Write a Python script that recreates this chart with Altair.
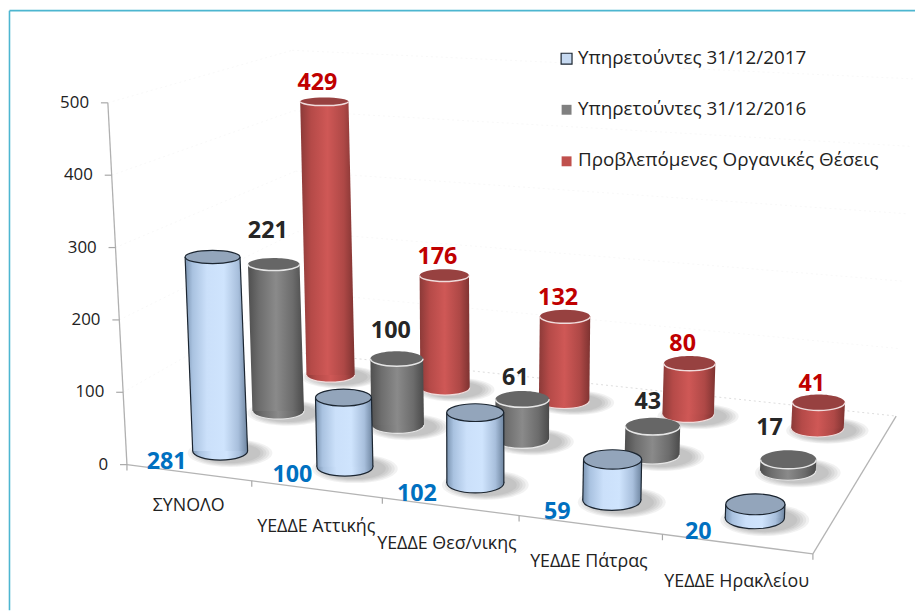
import altair as alt
import numpy as np
import pandas as pd

# ---------- data ----------
categories = ["ΣΥΝΟΛΟ", "ΥΕΔΔΕ Αττικής", "ΥΕΔΔΕ Θεσ/νικης", "ΥΕΔΔΕ Πάτρας", "ΥΕΔΔΕ Ηρακλείου"]
series_names = ["Υπηρετούντες 31/12/2017", "Υπηρετούντες 31/12/2016", "Προβλεπόμενες Οργανικές Θέσεις"]
v2017 = [281, 100, 102, 59, 20]
v2016 = [221, 100, 61, 43, 17]
v_org = [429, 176, 132, 80, 41]
series_values = [v2017, v2016, v_org]
axis_ticks = [0, 100, 200, 300, 400, 500]

# ---------- 3D projection (floor corners of the scene, as a homography) ----------
src = [(0, 0), (1, 0), (1, 1), (0, 1)]
dst = [(121, 464), (813, 554), (897, 415), (296, 351)]
M, b = [], []
for (u, w), (X, Y) in zip(src, dst):
    M.append([u, w, 1, 0, 0, 0, -u * X, -w * X]); b.append(X)
    M.append([0, 0, 0, u, w, 1, -u * Y, -w * Y]); b.append(Y)
H = np.append(np.linalg.solve(np.array(M, float), np.array(b, float)), 1).reshape(3, 3)


def floor(u, w):
    p = H @ np.array([u, w, 1.0])
    return float(p[0] / p[2]), float(p[1] / p[2])


def lift(x, y, h):
    """Point h pixels above floor point (x, y), with verticals converging below."""
    return x + (x - 487) * h / (7400 - y), y - h


def ratio(y):
    return min(0.4, 0.17 + 0.00046 * (y - 104))


def ellipse(r):
    c = 0.5523
    return (f"M-1,0C-1,{-c*r:.3f},{-c:.3f},{-r:.3f},0,{-r:.3f}C{c:.3f},{-r:.3f},1,{-c*r:.3f},1,0"
            f"C1,{c*r:.3f},{c:.3f},{r:.3f},0,{r:.3f}C{-c:.3f},{r:.3f},-1,{c*r:.3f},-1,0Z")


def front_arc(r):
    c = 0.5523
    return f"M-1,0C-1,{c*r:.3f},{-c:.3f},{r:.3f},0,{r:.3f}C{c:.3f},{r:.3f},1,{c*r:.3f},1,0"


# ---------- scales map picture pixels onto the 915x605 plot ----------
XS = alt.Scale(domain=[1, 916], range=[0, 915], nice=False, zero=False)
YS = alt.Scale(domain=[6, 611], range=[0, 605], nice=False, zero=False)
FONT = "Open Sans"
EX = alt.X("x:Q", scale=XS, axis=None)
EY = alt.Y("y:Q", scale=YS, axis=None)


def grad(stops):
    return alt.Gradient(gradient="linear", x1=0, x2=1, y1=0, y2=0,
                        stops=[alt.GradientStop(offset=o, color=c) for o, c in stops])


def rules(rows, color, width=1.0, dash=None, opacity=1.0):
    kw = {"strokeDash": dash} if dash else {}
    return alt.Chart(pd.DataFrame(rows, columns=["x", "y", "x2", "y2"])).mark_rule(
        color=color, strokeWidth=width, opacity=opacity, **kw
    ).encode(x=EX, y=EY, x2="x2:Q", y2="y2:Q")


def texts(rows, size, color, weight="normal", align="center", dx=0):
    return alt.Chart(pd.DataFrame(rows, columns=["x", "y", "t"])).mark_text(
        font=FONT, fontSize=size, color=color, fontWeight=weight, align=align,
        baseline="middle", dx=dx
    ).encode(x=EX, y=EY, text="t:N")


def ellipses(df, filled=True, **mark):
    return alt.Chart(df).mark_point(filled=filled, **mark).encode(
        x=EX, y=EY,
        size=alt.Size("size:Q", scale=None, legend=None),
        shape=alt.Shape("path:N", scale=None, legend=None),
    )


# ---------- styles per series ----------
styles = [
    dict(body=[(0, "#7a93b0"), (0.12, "#a9c2e0"), (0.35, "#cbe0fa"), (0.62, "#cfe4fd"), (0.85, "#a8bfdc"), (1, "#6d849f")],
         top="#93a5bb", rim="#1b2530", rimw=1.2, side="#1b2530"),
    dict(body=[(0, "#4f4f4f"), (0.2, "#6d6d6d"), (0.5, "#8a8a8a"), (0.8, "#6c6c6c"), (1, "#4a4a4a")],
         top="#666666", rim="#e6e6e6", rimw=1.2, side=None),
    dict(body=[(0, "#8b3a38"), (0.2, "#b54a48"), (0.5, "#cf5856"), (0.8, "#ae4846"), (1, "#7e3331")],
         top="#974140", rim="#f0dcdc", rimw=1.2, side=None),
]
value_colors = ["#0070c0", "#262626", "#c00000"]
gray_label_nudge = [(2, -8), (2, -2), (1, 5), (3, 1), (-11, -6)]
blue_label_nudge = [(0, 0), (1, -3), (-5, 0), (-1, 1), (-3, 3)]
cat_label_nudge = [(0, 0), (0, 4), (-3, 4), (-1, 4), (0, 4)]

# ---------- scene ----------
layers = []

# picture frame
layers.append(rules([(2.5, 6, 916, 6), (2.5, 6, 2.5, 611)], "#4db6d0", 1.6))

# faint wall gridlines
back_l, back_r = dst[3], dst[2]
wall = []
for t in axis_ticks[1:]:
    ax_top = lift(dst[0][0], dst[0][1], 0.73 * t)
    bl = lift(back_l[0], back_l[1], 0.61 * t)
    br = lift(back_r[0], back_r[1], 0.68 * t)
    wall.append((ax_top[0], ax_top[1], bl[0], bl[1]))
    wall.append((bl[0], bl[1], br[0], br[1]))
layers.append(rules(wall, "#f8f8f8", 1, dash=[2, 3]))
layers.append(rules([(back_l[0], back_l[1], back_r[0], back_r[1])], "#dddddd", 1, dash=[2, 3]))

# floor edges and axes
A, B, C = dst[0], dst[1], dst[2]
layers.append(rules([(A[0], A[1], B[0], B[1]), (B[0], B[1], C[0], C[1])], "#b4b4b4", 1.3))
ax_end = lift(A[0], A[1], 0.73 * 500)
layers.append(rules([(A[0], A[1], ax_end[0], ax_end[1])], "#b0b0b0", 1.3))
tick_rows, tick_text = [], []
for t in axis_ticks:
    p = lift(A[0], A[1], 0.73 * t)
    tick_rows.append((p[0] - 7, p[1], p[0], p[1]))
    tick_text.append((p[0] - 19, p[1], str(t)))
cat_ticks, cat_text = [], []
for i in range(6):
    p = floor(i / 5, 0)
    cat_ticks.append((p[0], p[1], p[0], p[1] + 6))
    if i < 5:
        q = floor((i + 0.5) / 5, 0)
        nx, ny = cat_label_nudge[i]
        cat_text.append((q[0] + nx, q[1] + 34 + ny, categories[i]))
layers.append(rules(tick_rows + cat_ticks, "#a8a8a8", 1.2))
layers.append(texts(tick_text, 17, "#222222", align="right"))
layers.append(texts(cat_text, 18, "#222222"))

# cylinders: back row first
label_rows = {0: [], 1: [], 2: []}
for s in [2, 1, 0]:
    st = styles[s]
    w = (s + 0.5) / 3
    k = 0.71 - 0.08 * w
    shadow, base, body, side, top, arc = [], [], [], [], [], []
    for i, val in enumerate(series_values[s]):
        u = (i + 0.5) / 5
        x0, y0 = floor(u, w)
        W = 56.5 - 10 * w + 5.4 * u
        x1, y1 = lift(x0, y0, k * val)
        base.append(dict(x=x0, y=y0, size=W * W, path=ellipse(ratio(y0))))
        top.append(dict(x=x1, y=y1, size=W * W, path=ellipse(ratio(y1))))
        arc.append(dict(x=x1, y=y1, size=W * W, path=front_arc(ratio(y1))))
        for extra in (30, 24, 18, 12, 6):
            Ws = W + extra
            shadow.append(dict(x=x0 + 10, y=y0 + 2, size=Ws * Ws, path=ellipse(ratio(y0))))
        body.append(dict(id=i, y=y1, x=x1 - W / 2, xr=x1 + W / 2))
        body.append(dict(id=i, y=y0, x=x0 - W / 2, xr=x0 + W / 2))
        side.append((x1 - W / 2, y1, x0 - W / 2, y0))
        side.append((x1 + W / 2, y1, x0 + W / 2, y0))
        if s == 0:
            nx, ny = blue_label_nudge[i]
            label_rows[s].append((x0 - 54 + nx, y0 + 11 + ny, str(val)))
        elif s == 1:
            nx, ny = gray_label_nudge[i]
            label_rows[s].append((x1 - 8 + nx, y1 - 26 + ny, str(val)))
        else:
            label_rows[s].append((x1 - 7, y1 - 19, str(val)))
    layers.append(ellipses(pd.DataFrame(shadow), color="#444444", opacity=0.07))
    layers.append(ellipses(pd.DataFrame(base), fill=grad(st["body"]), stroke=st["rim"],
                           strokeWidth=st["rimw"], opacity=1))
    layers.append(alt.Chart(pd.DataFrame(body)).mark_area(
        orient="horizontal", fill=grad(st["body"]), opacity=1, line=False
    ).encode(x=alt.X("x:Q", scale=XS, axis=None, stack=None), x2="xr:Q", y=EY, detail="id:N"))
    if st["side"]:
        layers.append(rules(side, st["side"], 1.2))
        layers.append(ellipses(pd.DataFrame(top), fill=st["top"], stroke=st["rim"],
                               strokeWidth=st["rimw"], opacity=1))
    else:
        layers.append(ellipses(pd.DataFrame(top), fill=st["top"], opacity=1))
        layers.append(ellipses(pd.DataFrame(arc), filled=False, fill="transparent", stroke=st["rim"],
                               strokeWidth=1.5, opacity=1))

for s in [2, 1, 0]:
    layers.append(texts(label_rows[s], 23.5, value_colors[s], weight="bold"))

# legend
legend_y = [54.5, 106, 158]
leg_sym = pd.DataFrame(dict(x=[564.5] * 3, y=legend_y, name=series_names))
layers.append(alt.Chart(leg_sym[leg_sym.index == 0]).mark_point(
    shape="square", filled=True, size=121, fill="#c6d9f1", stroke="#1b2530", strokeWidth=1.2, opacity=1
).encode(x=EX, y=EY))
layers.append(alt.Chart(leg_sym[leg_sym.index == 1]).mark_point(
    shape="square", filled=True, size=100, fill="#808080", opacity=1).encode(x=EX, y=EY))
layers.append(alt.Chart(leg_sym[leg_sym.index == 2]).mark_point(
    shape="square", filled=True, size=100, fill="#c0504d", opacity=1).encode(x=EX, y=EY))
layers.append(texts([(576, y - 1, n) for y, n in zip(legend_y, series_names)], 19, "#222222", align="left"))

chart = alt.layer(*layers).properties(
    width=915, height=605, padding=0, autosize=alt.AutoSizeParams(type="none"), background="white"
).configure_view(stroke=None)

chart.save("out.html", embed_options={"renderer": "svg", "actions": False})
